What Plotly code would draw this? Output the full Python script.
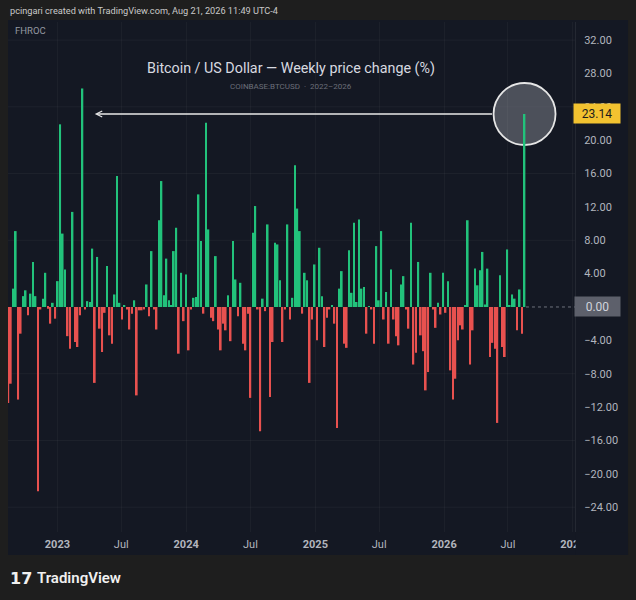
import pandas as pd
import plotly.graph_objects as go

# weekly % change, one bar per week starting Mon 2022-08-15
start_week = "2022-08-15"
weekly_change = [
    -11.5, -9.2, 2.2, 9.1, -11.1, -3.2, 1.3, 2.0, -1.0, 1.6,
    5.4, 1.3, -22.1, -0.3, 1.0, 4.1, -0.2, -2.0, 0.5, -1.4,
    3.1, 21.9, 8.8, 4.5, -3.5, -5.0, 11.4, -4.2, -4.8, -1.0,
    26.2, -0.3, 0.7, 0.6, 7.0, -9.1, 6.0, -2.6, -5.4, -0.7,
    4.9, -3.4, -4.4, 1.5, 15.7, 0.5, -1.5, 0.2, -0.3, -2.7,
    -0.8, 0.8, -10.6, -0.4, -0.4, -0.3, 2.7, -1.1, 6.7, -0.3,
    -2.7, 10.4, 15.1, 1.4, 5.8, 0.8, 0.2, 6.7, 9.5, -5.6,
    4.1, -1.7, 3.9, -5.2, -0.3, 1.1, 1.2, 13.5, 7.9, -0.8,
    22.1, 9.3, -1.3, -1.7, 6.1, -2.7, -5.2, -2.0, -2.8, 1.4,
    -4.1, 7.9, 3.3, -1.1, 2.9, -4.4, -5.2, -0.8, -10.9, 8.9,
    12.1, -0.3, -14.9, 1.0, -0.5, 9.9, -10.8, -4.2, 7.7, 7.5,
    3.2, -4.2, -0.3, 9.9, -1.5, 1.1, 17.0, 11.8, 9.1, -0.8,
    4.1, 3.2, -9.1, -1.5, 5.1, -4.0, 7.1, 1.3, -4.8, -1.3,
    -0.3, 0.2, -2.0, -14.5, 2.2, 4.3, -4.4, -4.9, 6.8, 1.7,
    10.1, 0.6, 10.5, 2.2, 2.4, -3.2, 0.1, -0.3, -4.4, 7.3,
    0.8, 9.1, -1.5, 1.8, -4.4, 4.5, -1.5, -3.5, -4.6, 2.7,
    3.7, -0.3, -2.6, 10.1, -6.9, -5.5, 5.4, -3.4, -5.3, -10.0,
    -7.8, 4.1, -0.3, -2.5, 0.5, -0.9, 4.1, -0.7, 3.1, -7.6,
    -11.1, -8.6, -4.0, -2.2, -2.7, 0.2, 10.4, -6.9, -2.8, 4.6,
    2.6, 4.4, 6.6, 0.3, 4.6, -6.0, -4.3, -5.0, -13.9, 3.8,
    -4.8, -6.0, 6.9, 0.2, 1.5, 1.0, -2.8, 2.1, -3.2, 23.14,
]
weeks = pd.date_range(start_week, periods=len(weekly_change), freq="7D")
last_week = weeks[-1]
last_value = weekly_change[-1]

tick_dates = ["2023-01-01", "2023-07-01", "2024-01-01", "2024-07-01", "2025-01-01",
              "2025-07-01", "2026-01-01", "2026-07-01", "2027-01-01"]
tick_text = ["<b>2023</b>", "Jul", "<b>2024</b>", "Jul", "<b>2025</b>",
             "Jul", "<b>2026</b>", "Jul", "<b>2027</b>"]
price_ticks = [-24, -20, -16, -12, -8, -4, 0, 4, 8, 12, 16, 20, 24, 28, 32]
grid_levels = [-24, -16, -8, 8, 16, 24, 32]
arrow_tip_date = "2023-04-17"

# colours
GREEN = "#22c27b"
RED = "#e8514f"
PANEL = "#141823"
OUTER = "#1e1e1e"
AXIS_TXT = "#b2b5be"

x_range = ["2022-08-14", "2027-01-07"]
y_range = [-26.98, 34.17]
plot_w = 636 - 8 - 61
px_per_day = plot_w / (pd.Timestamp(x_range[1]) - pd.Timestamp(x_range[0])).days
circle_r = 31


def price_label(v):
    # zero is shown by the grey badge instead
    if v == 0:
        return ""
    return f"{v:.2f}".replace("-", "\u2212")


colors = [GREEN if v >= 0 else RED for v in weekly_change]

fig = go.Figure()
fig.add_trace(go.Bar(
    x=weeks, y=weekly_change,
    marker=dict(color=colors, line=dict(width=0)),
    width=7 * 86400000 * 0.68,
    hovertemplate="%{x|%b %d, %Y}: %{y:.2f}%<extra></extra>",
))

shapes = [
    # dark chart panel incl. price / time scale strips
    dict(type="rect", xref="paper", yref="paper", x0=0, x1=1.0935, y0=-0.0451, y1=1.0039,
         fillcolor=PANEL, line=dict(width=0), layer="below"),
    # bottom-right corner of the scales, hides overflow of last date label
    dict(type="rect", xref="paper", yref="paper", x0=1.001, x1=1.0935, y0=-0.0451, y1=-0.001,
         fillcolor=PANEL, line=dict(width=0), layer="above"),
    # highlight circle around the latest bar
    dict(type="circle", xref="x", yref="y", xsizemode="pixel", ysizemode="pixel",
         xanchor=last_week, yanchor=last_value,
         x0=-circle_r, x1=circle_r, y0=-circle_r, y1=circle_r,
         fillcolor="rgba(112,114,124,0.62)", line=dict(color="#e6e6e6", width=1.8),
         layer="below"),
    # dotted zero line right of last bar
    dict(type="line", xref="x", yref="y", x0=last_week + pd.Timedelta(days=4), x1=x_range[1],
         y0=0, y1=0, line=dict(color="rgba(150,153,162,0.7)", width=1, dash="dot")),
]
for g in grid_levels:
    shapes.append(dict(type="line", xref="paper", yref="y", x0=0, x1=1, y0=g, y1=g,
                       line=dict(color="rgba(255,255,255,0.045)", width=1), layer="below"))

arrow_tail = last_week - pd.Timedelta(days=circle_r / px_per_day)

annotations = [
    dict(text="pcingari created with TradingView.com, Aug 21, 2026 11:49 UTC-4",
         xref="paper", yref="paper", x=0, y=1.0216, xanchor="left", yanchor="middle",
         showarrow=False, font=dict(size=9.2, color="#c9c9c9")),
    dict(text="FHROC", xref="paper", yref="paper", x=0.009, y=0.984,
         xanchor="left", yanchor="middle", showarrow=False,
         font=dict(size=9.5, color="#9598a1")),
    dict(text="Bitcoin / US Dollar — Weekly price change (%)", xref="paper", yref="paper",
         x=0.499, y=0.908, xanchor="center", yanchor="middle", showarrow=False,
         font=dict(size=14.3, color="#d8dae0")),
    dict(text="COINBASE:BTCUSD  ·  2022–2026", xref="paper", yref="paper",
         x=0.499, y=0.8745, xanchor="center", yanchor="middle", showarrow=False,
         font=dict(size=8, color="#6b6e79")),
    dict(text="", x=arrow_tip_date, y=last_value, ax=arrow_tail, ay=last_value,
         xref="x", yref="y", axref="x", ayref="y", showarrow=True,
         arrowhead=5, arrowsize=0.8, arrowwidth=1.5, arrowcolor="#e8e8e8"),
    dict(text=f"{last_value:.2f}", xref="paper", yref="y", x=1.038, y=last_value,
         xanchor="center", yanchor="middle", showarrow=False, width=44, height=17,
         bgcolor="#f2c230", font=dict(size=12, color="#1c1c1c")),
    dict(text="0.00", xref="paper", yref="y", x=1.039, y=0,
         xanchor="center", yanchor="middle", showarrow=False, width=43, height=17,
         bgcolor="#5d606b", font=dict(size=12, color="#d1d4dc")),
    dict(text="<b>17</b>", xref="paper", yref="paper", x=0, y=-0.0902,
         xanchor="left", yanchor="middle", showarrow=False,
         font=dict(size=16, color="#f0f0f0", family="DejaVu Sans")),
    dict(text="TradingView", xref="paper", yref="paper", x=0.047, y=-0.0902,
         xanchor="left", yanchor="middle", showarrow=False,
         font=dict(size=15, color="#f0f0f0", family="Roboto", weight=600)),
]

fig.update_layout(
    width=636, height=600,
    margin=dict(l=8, r=61, t=22, b=68),
    paper_bgcolor=OUTER, plot_bgcolor=PANEL,
    font=dict(family="Roboto, Inter, sans-serif", color=AXIS_TXT),
    showlegend=False,
    shapes=shapes,
    annotations=annotations,
    xaxis=dict(type="date", range=x_range, tickvals=tick_dates, ticktext=tick_text,
               tickfont=dict(size=11, color=AXIS_TXT), showgrid=True,
               gridcolor="rgba(255,255,255,0.035)", zeroline=False, showline=False,
               ticks="", ticklabelstandoff=4, fixedrange=True),
    yaxis=dict(side="right", range=y_range, tickvals=price_ticks,
               ticktext=[price_label(v) for v in price_ticks],
               tickfont=dict(size=11, color=AXIS_TXT), showgrid=False, zeroline=False,
               showline=True, linecolor="rgba(255,255,255,0.07)", ticks="",
               ticklabelstandoff=6, fixedrange=True),
)

# drop the default page margin so the figure sits at the window's top-left corner
fig.write_html("out.html",
               config={"displayModeBar": False},
               post_script="document.body.style.margin='0';"
                           "document.body.style.background='#1e1e1e';")
